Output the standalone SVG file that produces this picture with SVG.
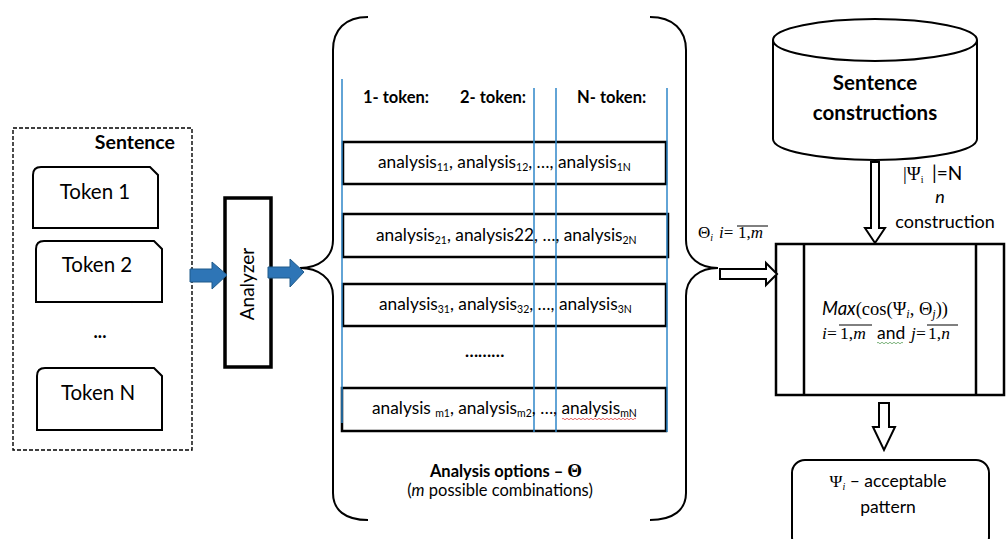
<svg xmlns="http://www.w3.org/2000/svg" width="1006" height="539" viewBox="0 0 1006 539">
<style>
.t{font-family:Lato,"Liberation Sans",sans-serif;fill:#000}
.b{font-weight:bold}
.m{font-family:"Liberation Serif",serif;fill:#000}
.ln{fill:none;stroke:#000;stroke-width:2}
.thick{fill:#fff;stroke:#000;stroke-width:2.5}
.blue{stroke:#2E86C8;stroke-width:1.5}
.hollow{fill:#fff;stroke:#000;stroke-width:2}
.barrow{fill:#2E75B6;stroke:#1F5A8A;stroke-width:1}
.row{font-size:17.3px}
.sub{font-size:10.5px}
</style>
<rect width="1006" height="539" fill="#fff"/>

<g id="sentence">
<rect x="13" y="128" width="179" height="322" fill="none" stroke="#000" stroke-width="1.4" stroke-dasharray="4,2"/>
<text class="t b" x="175" y="149" font-size="19.5" text-anchor="end">Sentence</text>
</g>
<g id="token1">
<path class="ln" d="M33,228 V175 Q33,167 41,167 H150 L158,175 V228 Z" fill="#fff"/>
<text class="t" x="95" y="199" font-size="20.5" text-anchor="middle">Token 1</text>
</g>
<g id="token2">
<path class="ln" d="M36,302 V249 Q36,241 44,241 H154 L162,249 V302 Z" fill="#fff"/>
<text class="t" x="97" y="272" font-size="20.5" text-anchor="middle">Token 2</text>
</g>
<g id="dots1"><text class="t b" x="100" y="338" font-size="18" text-anchor="middle">...</text></g>
<g id="tokenN">
<path class="ln" d="M37,430 V376 Q37,368 45,368 H154 L162,376 V430 Z" fill="#fff"/>
<text class="t" x="98" y="400" font-size="20.5" text-anchor="middle">Token N</text>
</g>

<g id="analyzer">
<rect x="225" y="198" width="46" height="169" fill="#fff" stroke="#000" stroke-width="3.5"/>
<text class="t" x="0" y="0" font-size="19" text-anchor="middle" transform="translate(254,284) rotate(-90)">Analyzer</text>
</g>

<g id="options">
<path class="ln" d="M368,17 C345,17 333,30 333,50 L333,240 C333,258 318,268 300,268 C318,268 333,278 333,296 L333,493 C333,510 345,520 368,520"/>
<path class="ln" d="M650,17 C673,17 686,30 686,50 L686,240 C686,258 700,268 718,268 C700,268 686,278 686,296 L686,493 C686,510 673,520 650,520"/>
<text class="t b" x="363" y="103" font-size="16.5">1- token:</text>
<text class="t b" x="460" y="103" font-size="16.5">2- token:</text>
<text class="t b" x="577" y="103" font-size="16.5">N- token:</text>
<rect class="thick" x="343" y="142" width="323" height="42"/>
<rect class="thick" x="343" y="214" width="325" height="43"/>
<rect class="thick" x="343" y="284" width="323" height="42"/>
<rect class="thick" x="342" y="388" width="324" height="43"/>
<line class="blue" x1="342" y1="79" x2="342" y2="423"/>
<line class="blue" x1="534" y1="88" x2="534" y2="432"/>
<line class="blue" x1="556" y1="88" x2="556" y2="432"/>
<line class="blue" x1="667" y1="88" x2="667" y2="432"/>
<text class="t row" x="378" y="168">analysis<tspan class="sub" dy="3">11</tspan><tspan dy="-3">, analysis</tspan><tspan class="sub" dy="3">12</tspan><tspan dy="-3">, …, analysis</tspan><tspan class="sub" dy="3">1N</tspan></text>
<text class="t row" x="376" y="241">analysis<tspan class="sub" dy="3">21</tspan><tspan dy="-3">, analysis22, …, analysis</tspan><tspan class="sub" dy="3">2N</tspan></text>
<text class="t row" x="379" y="310">analysis<tspan class="sub" dy="3">31</tspan><tspan dy="-3">, analysis</tspan><tspan class="sub" dy="3">32</tspan><tspan dy="-3">, …, analysis</tspan><tspan class="sub" dy="3">3N</tspan></text>
<text class="t b" x="465" y="357" font-size="17">………</text>
<text class="t row" x="372" y="414">analysis <tspan class="sub" dy="3">m1</tspan><tspan dy="-3">, analysis</tspan><tspan class="sub" dy="3">m2</tspan><tspan dy="-3">, …, analysis</tspan><tspan class="sub" dy="3">mN</tspan></text>
<path d="M562,419 q1,-1.5 2,0 t2,0 t2,0 t2,0 t2,0 t2,0 t2,0 t2,0 t2,0 t2,0 t2,0 t2,0 t2,0 t2,0 t2,0 t2,0 t2,0 t2,0 t2,0 t2,0 t2,0 t2,0 t2,0 t2,0 t2,0 t2,0 t2,0 t2,0 t2,0 t2,0 t2,0 t2,0 t2,0 t2,0 t2,0 t2,0 t2,0" fill="none" stroke="#e04040" stroke-width="0.8"/>
<text class="t b" x="506" y="477" font-size="16.5" text-anchor="middle">Analysis options – <tspan class="m" font-size="19">Θ</tspan></text>
<text class="t" x="500" y="496" font-size="16.5" text-anchor="middle">(<tspan font-style="italic">m</tspan> possible combinations)</text>
</g>

<g id="constructions">
<path d="M773,40 V139 A102,21 0 0 0 977,139 V40" fill="#fff" stroke="#000" stroke-width="2"/>
<ellipse cx="875" cy="40" rx="102" ry="21" fill="#fff" stroke="#000" stroke-width="2"/>
<text class="t b" x="875" y="90" font-size="20.5" text-anchor="middle">Sentence</text>
<text class="t b" x="875" y="120" font-size="20.5" text-anchor="middle">constructions</text>
</g>

<g id="matcher">
<rect x="776" y="244" width="228" height="151" fill="#fff" stroke="#000" stroke-width="2.5"/>
<line x1="804" y1="244" x2="804" y2="395" stroke="#000" stroke-width="2.5"/>
<line x1="976" y1="244" x2="976" y2="395" stroke="#000" stroke-width="2.5"/>
<text class="m" x="822" y="315" font-size="18.5"><tspan class="t" font-style="italic">Max</tspan>(cos(Ψ<tspan font-size="12" font-style="italic" dy="3">i</tspan><tspan dy="-3">, Θ</tspan><tspan font-size="12" font-style="italic" dy="3">j</tspan><tspan dy="-3">))</tspan></text>
<text class="m" y="339" font-size="17.5"><tspan x="822" font-style="italic">i</tspan><tspan>=</tspan><tspan x="840">1,</tspan><tspan font-style="italic">m</tspan><tspan class="t" x="877">and</tspan><tspan x="911" font-style="italic">j</tspan><tspan>=</tspan><tspan x="928">1,</tspan><tspan font-style="italic">n</tspan></text>
<line x1="839" y1="325" x2="872" y2="325" stroke="#000" stroke-width="1"/>
<line x1="927" y1="325" x2="958" y2="325" stroke="#000" stroke-width="1"/>
<path d="M877,343 q1,-1.5 2,0 t2,0 t2,0 t2,0 t2,0 t2,0 t2,0 t2,0 t2,0 t2,0 t2,0 t2,0 t2,0" fill="none" stroke="#5aa05a" stroke-width="0.8"/>
</g>

<g id="result">
<rect x="792" y="460" width="197" height="90" rx="13" fill="#fff" stroke="#000" stroke-width="2"/>
<text class="t" x="888" y="487" font-size="17.5" text-anchor="middle"><tspan class="m">Ψ</tspan><tspan class="m" font-size="10" font-style="italic" dy="3">i</tspan><tspan dy="-3"> – acceptable</tspan></text>
<text class="t" x="888" y="513" font-size="17.5" text-anchor="middle">pattern</text>
</g>

<g id="connectors">
<path class="barrow" d="M190,269 H212 V262 L227,275 L212,289 V282 H190 Z"/>
<path class="barrow" d="M268,267 H290 V259 L304,272 L290,287 V278 H268 Z"/>
<path class="hollow" d="M720,269 H766 V263 L777,274 L766,285 V279 H720 Z"/>
<path class="hollow" d="M871,162 V228 H865 L875,243 L885,228 H879 V162 Z"/>
<path class="hollow" d="M879,403 V427 H873 L884,450 L895,427 H889 V403 Z"/>
<text class="m" y="238" font-size="17"><tspan x="698">Θ</tspan><tspan font-size="10" font-style="italic" dy="3">i</tspan><tspan x="719" dy="-3" font-style="italic">i</tspan><tspan>=</tspan><tspan x="738">1,</tspan><tspan font-style="italic">m</tspan></text>
<line x1="737" y1="226" x2="768" y2="226" stroke="#000" stroke-width="1"/>
<text class="m" y="180" font-size="19"><tspan x="903">|Ψ</tspan><tspan font-size="10" dy="3">i</tspan><tspan class="t" x="932" dy="-3">|=N</tspan></text>
<text class="t" x="940" y="203" font-size="18" font-style="italic" text-anchor="middle">n</text>
<text class="t" x="945" y="228" font-size="18" text-anchor="middle">construction</text>
</g>
</svg>
